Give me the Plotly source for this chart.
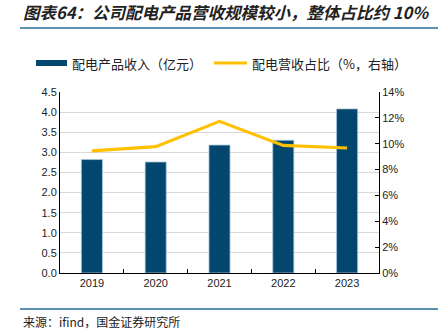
import plotly.graph_objects as go

years = ["2019", "2020", "2021", "2022", "2023"]
revenue = [2.82, 2.76, 3.18, 3.30, 4.08]          # 配电产品收入（亿元）
share = [9.45, 9.77, 11.73, 9.87, 9.67]            # 配电营收占比（%）

title_text = "图表64：公司配电产品营收规模较小，整体占比约 10%"
legend_bar = "配电产品收入（亿元）"
legend_line = "配电营收占比（%，右轴）"
source_text = "来源：ifind，国金证券研究所"

W, H = 438, 331
L, R, T, B = 60, 59, 92, 58
PW, PH = W - L - R, H - T - B

def px(x):
    return (x - L) / PW

def py(y):
    return (H - B - y) / PH

BAR = "#03466e"
LINE = "#ffc000"
RULE = "#5d8fb0"
FONT = "Liberation Sans, Arial, sans-serif"
CJK = "Noto Sans CJK SC"

fig = go.Figure()
fig.add_trace(go.Bar(x=years, y=revenue, name=legend_bar, marker=dict(color=BAR, line=dict(color="#a9c4d8", width=0.8)),
                     width=0.33, showlegend=False))
fig.add_trace(go.Scatter(x=years, y=share, name=legend_line, yaxis="y2", mode="lines",
                         line=dict(color=LINE, width=3.2), showlegend=False))

shapes = [
    dict(type="line", xref="paper", yref="paper", x0=px(20), x1=px(438), y0=py(28), y1=py(28), line=dict(color=RULE, width=2)),
    dict(type="line", xref="paper", yref="paper", x0=px(20), x1=px(438), y0=py(309), y1=py(309), line=dict(color=RULE, width=2)),
    dict(type="rect", xref="paper", yref="paper", x0=px(36), x1=px(67), y0=py(66), y1=py(60), fillcolor=BAR, line=dict(width=0)),
    dict(type="line", xref="paper", yref="paper", x0=px(214), x1=px(247), y0=py(63), y1=py(63), line=dict(color=LINE, width=3)),
]
annotations = [
    dict(text="<b><i>" + title_text + "</i></b>", xref="paper", yref="paper", x=px(21), y=py(12), xanchor="left", yanchor="middle",
         showarrow=False, font=dict(family=CJK, size=16.5, color="#222222")),
    dict(text=legend_bar, xref="paper", yref="paper", x=px(70), y=py(63), xanchor="left", yanchor="middle",
         showarrow=False, font=dict(family=CJK, size=13, color="#222222")),
    dict(text=legend_line, xref="paper", yref="paper", x=px(250), y=py(63), xanchor="left", yanchor="middle",
         showarrow=False, font=dict(family=CJK, size=13, color="#222222")),
    dict(text=source_text, xref="paper", yref="paper", x=px(21), y=py(321), xanchor="left", yanchor="middle",
         showarrow=False, font=dict(family=CJK, size=12, color="#222222")),
]

fig.update_layout(
    width=W, height=H, margin=dict(l=L, r=R, t=T, b=B),
    paper_bgcolor="white", plot_bgcolor="white",
    font=dict(family=FONT, size=11, color="#222222"),
    shapes=shapes, annotations=annotations,
    xaxis=dict(type="category", showline=True, linecolor="black", linewidth=1, ticks="inside", ticklen=4,
               tickson="boundaries", tickcolor="black", showgrid=False, tickfont=dict(size=11)),
    yaxis=dict(range=[0, 4.5], dtick=0.5, tickformat=".1f", showline=True, linecolor="black", linewidth=1,
               showgrid=True, gridcolor="#d9d9d9", gridwidth=1, zeroline=False, ticks="", tickfont=dict(size=11)),
    yaxis2=dict(range=[0, 14], dtick=2, ticksuffix="%", overlaying="y", side="right", showline=True, linecolor="black",
                linewidth=1, showgrid=False, zeroline=False, ticks="inside", ticklen=4, tickcolor="black",
                tickfont=dict(size=11)),
    bargap=0.67,
)

fig.write_html("out.html")
